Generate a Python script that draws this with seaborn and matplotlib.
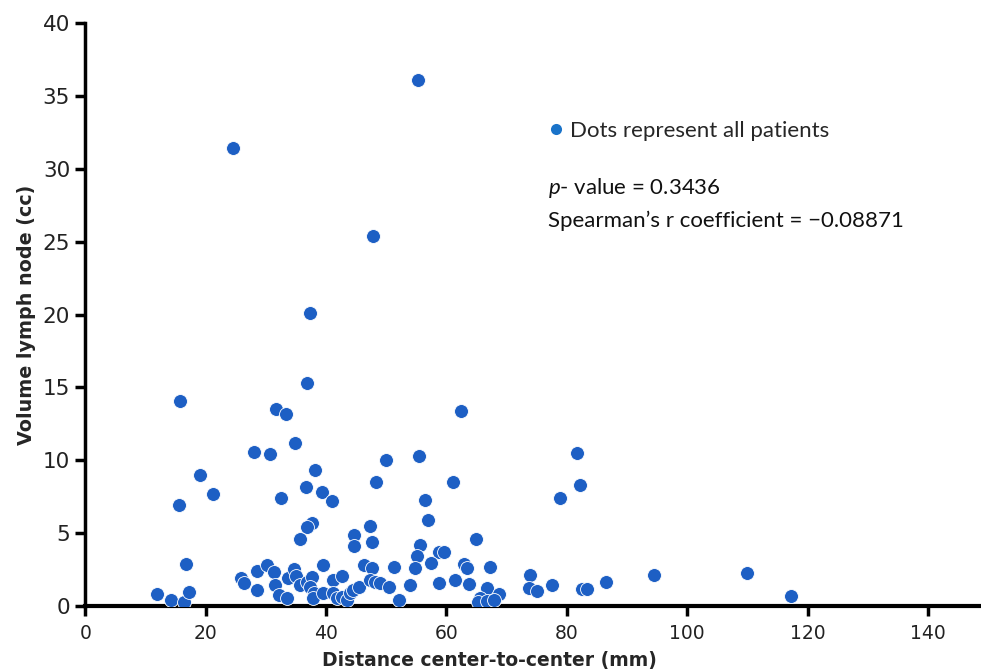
import matplotlib
matplotlib.use("Agg")
import matplotlib.pyplot as plt
import seaborn as sns
import pandas as pd
from matplotlib.lines import Line2D

distance_mm = [
    55.3, 24.5, 47.8, 37.3, 15.7, 36.8, 31.7, 33.3, 62.4, 34.8,
    28.1, 30.7, 55.4, 81.6, 50.0, 19.1, 38.2, 61.0, 48.3, 82.2,
    21.2, 36.6, 39.3, 41.0, 32.5, 78.9, 56.5, 15.5, 57.0, 37.7,
    36.9, 47.3, 44.6, 35.6, 64.9, 47.7, 55.6, 44.6, 58.7, 59.6,
    55.1, 16.7, 11.9, 14.2, 16.4, 17.3, 25.8, 26.3, 28.5, 28.5,
    30.2, 31.4, 31.5, 32.2, 33.5, 33.7, 34.7, 35.0, 35.7, 36.8,
    37.6, 37.3, 38.0, 37.8, 39.4, 39.5, 41.2, 42.6, 41.2, 41.8,
    42.6, 43.4, 43.9, 44.5, 45.4, 46.3, 47.6, 47.3, 48.1, 49.0,
    50.5, 51.2, 52.1, 53.9, 54.8, 57.5, 58.8, 61.4, 62.9, 63.4,
    67.3, 63.8, 66.8, 68.8, 65.5, 65.3, 66.7, 67.9, 73.9, 73.7,
    75.0, 77.5, 82.5, 83.3, 86.5, 94.5, 110.0, 117.2,
]
volume_cc = [
    36.1, 31.4, 25.4, 20.1, 14.1, 15.3, 13.5, 13.2, 13.4, 11.2,
    10.6, 10.4, 10.3, 10.5, 10.0, 9.0, 9.3, 8.5, 8.5, 8.3,
    7.7, 8.2, 7.8, 7.2, 7.4, 7.4, 7.3, 6.9, 5.9, 5.7,
    5.4, 5.5, 4.9, 4.6, 4.6, 4.4, 4.2, 4.1, 3.7, 3.7,
    3.4, 2.9, 0.84, 0.41, 0.29, 0.98, 1.9, 1.56, 2.41, 1.12,
    2.8, 2.35, 1.44, 0.79, 0.53, 1.92, 2.57, 2.09, 1.41, 1.67,
    2.01, 1.3, 0.89, 0.55, 2.81, 0.87, 1.78, 2.09, 0.86, 0.53,
    0.64, 0.41, 0.87, 1.1, 1.32, 2.81, 2.64, 1.78, 1.67, 1.56,
    1.32, 2.65, 0.41, 1.41, 2.59, 2.93, 1.56, 1.78, 2.88, 2.64,
    2.65, 1.49, 1.27, 0.82, 0.58, 0.29, 0.34, 0.39, 2.15, 1.23,
    1.06, 1.41, 1.18, 1.17, 1.67, 2.13, 2.24, 0.69,
]

x_ticks = [0, 20, 40, 60, 80, 100, 120, 140]
y_ticks = [0, 5, 10, 15, 20, 25, 30, 35, 40]

legend_label = "Dots represent all patients"
p_text = "$p$- value = 0.3436"
r_text = "Spearman\u2019s r coefficient = \u22120.08871"

df = pd.DataFrame({"distance": distance_mm, "volume": volume_cc})

sns.set_theme(style="ticks")
plt.rcParams["font.family"] = ["DejaVu Sans"]
plt.rcParams["mathtext.fontset"] = "custom"
plt.rcParams["mathtext.it"] = "Lato:italic"
plt.rcParams["mathtext.rm"] = "Lato"

dot_color = "#1d5fc4"

fig = plt.figure(figsize=(9.81, 6.70), dpi=100)
ax = fig.add_axes([0.087, 0.0955, 0.913, 0.870])

sns.scatterplot(data=df, x="distance", y="volume", ax=ax, color=dot_color,
                s=100, edgecolor="white", linewidth=0.6, legend=False, zorder=3)

ax.set_xlim(0, 148.8)
ax.set_ylim(0, 40)
ax.set_xticks(x_ticks)
ax.set_yticks(y_ticks)
ax.set_xticklabels([str(t) for t in x_ticks], fontsize=13.5)
ax.set_yticklabels([str(t) for t in y_ticks], fontsize=15.5)

for side in ["top", "right"]:
    ax.spines[side].set_visible(False)
ax.spines["left"].set_linewidth(2.5)
ax.spines["bottom"].set_linewidth(3)
ax.spines["left"].set_color("black")
ax.spines["bottom"].set_color("black")
ax.tick_params(axis="both", direction="out", length=7, width=2.5, color="black",
               labelcolor="#222222")
ax.tick_params(axis="x", pad=6)
ax.tick_params(axis="y", pad=4)

ax.set_xlabel("Distance center-to-center (mm)", fontsize=13.5, fontweight="bold")
ax.xaxis.set_label_coords(0.451, -0.077)
ax.set_ylabel("Volume lymph node (cc)", fontsize=13.8, fontweight="bold", labelpad=5)

handle = Line2D([], [], marker="o", linestyle="none", markersize=8,
                markerfacecolor="#1a73c9", markeredgecolor="none")
ax.legend([handle], [legend_label], loc="upper left", bbox_to_anchor=(0.5035, 0.848),
          frameon=False, handletextpad=0.1, handlelength=1.0, borderaxespad=0,
          prop={"family": "Lato", "size": 16})

ax.text(76.9, 28.7, p_text, fontsize=16, family="Lato", va="center", ha="left",
        color="#111111")
ax.text(76.9, 26.4, r_text, fontsize=16, family="Lato", va="center", ha="left",
        color="#111111")

fig.savefig("out.png", dpi=100)
